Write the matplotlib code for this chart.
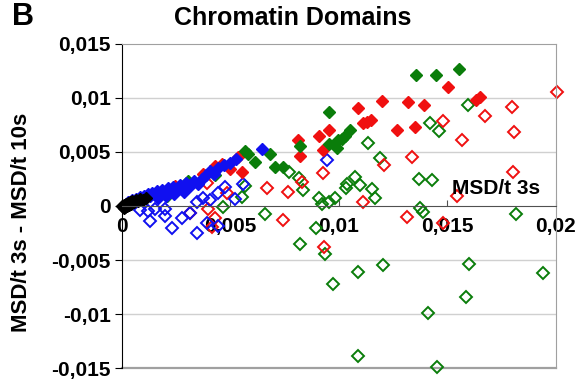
import matplotlib
matplotlib.use("Agg")
import matplotlib.pyplot as plt

plt.rcParams['font.family'] = ['Liberation Sans', 'DejaVu Sans']
plt.rcParams['font.weight'] = 'bold'

# MSD/t 3s (x) vs MSD/t 3s - MSD/t 10s (y), one pair of lists per group
black_x = [0.0, 0.00005, 0.00009, 0.00014, 0.00018, 0.00023, 0.00028, 0.00032, 0.00037,
           0.00041, 0.00046, 0.00055, 0.00065, 0.00074, 0.00083, 0.00097, 0.00111, 0.00009]
black_y = [0.0, 0.0, 0.00009, -0.00009, 0.00019, 0.0, 0.00028, 0.00009, 0.00037,
           0.00019, 0.00047, 0.00037, 0.00056, 0.00047, 0.00065, 0.00056, 0.00075, -0.00019]

blue_x = [0.00018, 0.00028, 0.00037, 0.00046, 0.00055, 0.00065, 0.00074, 0.00083, 0.00092,
          0.00101, 0.00111, 0.00120, 0.00129, 0.00138, 0.00152, 0.00161, 0.00175, 0.00184,
          0.00198, 0.00212, 0.00221, 0.00235, 0.00249, 0.00267, 0.00281, 0.00295, 0.00313,
          0.00332, 0.00350, 0.00369, 0.00387, 0.00406, 0.00424, 0.00442, 0.00470, 0.00498,
          0.00525, 0.00645, 0.00166, 0.00203, 0.00240, 0.00286]
blue_y = [0.00019, 0.00037, 0.00028, 0.00056, 0.00047, 0.00065, 0.00056, 0.00084, 0.00075,
          0.00093, 0.00084, 0.00112, 0.00093, 0.00121, 0.00102, 0.00140, 0.00121, 0.00149,
          0.00130, 0.00168, 0.00140, 0.00177, 0.00158, 0.00196, 0.00168, 0.00214, 0.00186,
          0.00233, 0.00205, 0.00252, 0.00289, 0.00326, 0.00298, 0.00354, 0.00382, 0.00401,
          0.00438, 0.00531, 0.00075, 0.00093, 0.00112, 0.00130]

blue_open_x = [0.00083, 0.00120, 0.00152, 0.00129, 0.00198, 0.00198, 0.00230, 0.00276, 0.00313,
               0.00346, 0.00346, 0.00373, 0.00392, 0.00406, 0.00442, 0.00442, 0.00475, 0.00521,
               0.00558, 0.00945]
blue_open_y = [-0.00037, -0.00047, -0.00028, -0.00140, -0.00028, -0.00093, -0.00205, -0.00112, -0.00065,
               0.00037, -0.00252, 0.00075, -0.00158, 0.00056, 0.00121, -0.00186, 0.00177, 0.00065,
               0.00205, 0.00429]

red_x = [0.00244, 0.00373, 0.00429, 0.00461, 0.00498, 0.00535, 0.00553, 0.00811, 0.00820,
         0.00908, 0.00926, 0.00954, 0.01088, 0.01111, 0.01129, 0.01147, 0.01198, 0.01267,
         0.01318, 0.01350, 0.01392, 0.01502, 0.01631, 0.01650]
red_y = [0.00186, 0.00298, 0.00373, 0.00391, 0.00345, 0.00457, 0.00317, 0.00606, 0.00466,
         0.00643, 0.00522, 0.00699, 0.00904, 0.00764, 0.00773, 0.00792, 0.00969, 0.00699,
         0.00960, 0.00727, 0.00932, 0.01100, 0.00978, 0.01006]

red_open_x = [0.00313, 0.00392, 0.00396, 0.00429, 0.00415, 0.00484, 0.00668, 0.00742, 0.00765,
              0.00829, 0.00926, 0.00931, 0.01111, 0.01207, 0.01313, 0.01336, 0.01479, 0.01479,
              0.01544, 0.01567, 0.01673, 0.01797, 0.01802, 0.01806, 0.02004]
red_open_y = [-0.00065, 0.00214, -0.00028, -0.00112, -0.00196, 0.00121, 0.00168, -0.00130, 0.00130,
              0.00224, 0.00307, -0.00382, 0.00037, 0.00382, -0.00102, 0.00457, 0.00783, -0.00158,
              0.00093, 0.00606, 0.00829, 0.00913, 0.00317, 0.00680, 0.01053]

green_x = [0.00207, 0.00304, 0.00429, 0.00567, 0.00581, 0.00613, 0.00682, 0.00705, 0.00742,
           0.00820, 0.00954, 0.00954, 0.00991, 0.00995, 0.01028, 0.01051, 0.01014, 0.01355,
           0.01447, 0.01553]
green_y = [0.00093, 0.00233, 0.00289, 0.00513, 0.00485, 0.00410, 0.00485, 0.00363, 0.00363,
           0.00559, 0.00867, 0.00578, 0.00541, 0.00606, 0.00652, 0.00699, 0.00624, 0.01212,
           0.01212, 0.01267]

green_open_x = [0.00466, 0.00553, 0.00567, 0.00659, 0.00770, 0.00816, 0.00820, 0.00834, 0.00894,
                0.00908, 0.00922, 0.00935, 0.00954, 0.00972, 0.00982, 0.01032, 0.01037, 0.01074,
                0.01088, 0.01088, 0.01097, 0.01134, 0.01152, 0.01166, 0.01189, 0.01203, 0.01369,
                0.01373, 0.01387, 0.01410, 0.01419, 0.01428, 0.01452, 0.01461, 0.01585, 0.01594,
                0.01599, 0.01816, 0.01940]
green_open_y = [-0.00009, 0.00084, 0.00186, -0.00075, 0.00317, 0.00261, -0.00354, 0.00149, -0.00205,
                0.00075, 0.00019, -0.00447, 0.00037, -0.00718, 0.00075, 0.00168, 0.00205, 0.00270,
                -0.00615, -0.01388, 0.00196, 0.00587, 0.00158, 0.00075, 0.00447, -0.00550, 0.00252,
                -0.00019, -0.00056, -0.00988, 0.00764, 0.00242, -0.01491, 0.00690, -0.00839, 0.00932,
                -0.00540, -0.00075, -0.00624]

x_ticks = [0, 0.005, 0.01, 0.015, 0.02]
x_labels = ['0', '0,005', '0,01', '0,015', '0,02']
y_ticks = [-0.015, -0.01, -0.005, 0, 0.005, 0.01, 0.015]
y_labels = ['-0,015', '-0,01', '-0,005', '0', '0,005', '0,01', '0,015']

RED = '#f01010'
GREEN = '#0a7d0a'
BLUE = '#1010f0'

fig = plt.figure(figsize=(5.85, 3.85), dpi=100)
ax = fig.add_axes([0.2085, 0.044, 0.7415, 0.842])

ms = 6.2
# open symbols first, filled ones on top
ax.plot(green_open_x, green_open_y, 'D', ms=ms, mfc='none', mec=GREEN, mew=1.4, ls='none', clip_on=False)
ax.plot(red_open_x, red_open_y, 'D', ms=ms, mfc='none', mec=RED, mew=1.4, ls='none', clip_on=False)
ax.plot(blue_open_x, blue_open_y, 'D', ms=ms, mfc='none', mec=BLUE, mew=1.4, ls='none', clip_on=False)
ax.plot(red_x, red_y, 'D', ms=ms, color=RED, ls='none', clip_on=False)
ax.plot(green_x, green_y, 'D', ms=ms, color=GREEN, ls='none', clip_on=False)
ax.plot(blue_x, blue_y, 'D', ms=ms, color=BLUE, ls='none', clip_on=False)
ax.plot(black_x, black_y, 'D', ms=ms, color='black', ls='none', clip_on=False)

ax.set_xlim(0, 0.02)
ax.set_ylim(-0.015, 0.015)

for yv in [-0.01, -0.005, 0.005, 0.01]:
    ax.axhline(yv, color='#d0d0d0', lw=1, zorder=0)

# frame: grey box, black y axis, x axis crossing at zero
for side in ['top', 'right']:
    ax.spines[side].set_color('#a0a0a0')
ax.spines['left'].set_color('black')
ax.spines['bottom'].set_position(('data', 0))
ax.spines['bottom'].set_color('#505050')
ax.axhline(-0.015, color='#a0a0a0', lw=1.6, clip_on=False, zorder=0)

ax.set_xticks(x_ticks)
ax.set_xticklabels(x_labels, fontsize=15, fontweight='bold')
ax.set_yticks(y_ticks)
ax.set_yticklabels(y_labels, fontsize=15, fontweight='bold')
ax.tick_params(axis='x', direction='in', length=4, pad=8, color='#505050')
ax.tick_params(axis='y', direction='out', length=5, pad=3)

ax.set_ylabel('MSD/t 3s - MSD/t 10s', fontsize=16, fontweight='bold')
ax.yaxis.set_label_coords(-0.208, 0.45)
ax.text(0.0193, 0.0016, 'MSD/t 3s', fontsize=15, fontweight='bold', ha='right', va='center')
fig.text(0.5, 0.953, 'Chromatin Domains', fontsize=18, fontweight='bold', ha='center', va='center')
fig.text(0.02, 0.955, 'B', fontsize=22, fontweight='bold', va='center')

fig.savefig('out.png', dpi=100)
